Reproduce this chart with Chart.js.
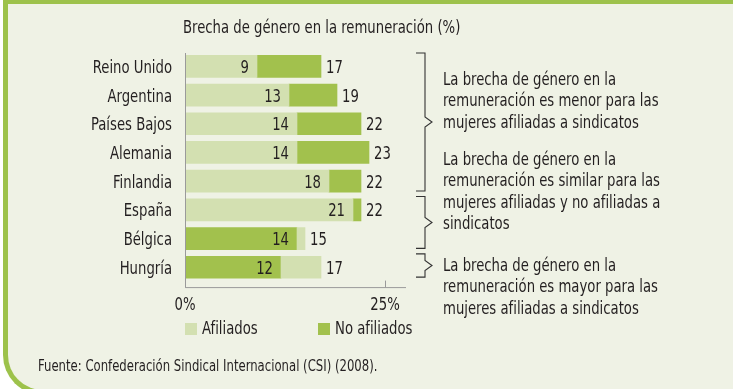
<!DOCTYPE html>
<html lang="es">
<head>
<meta charset="utf-8">
<title>Brecha de género en la remuneración</title>
<script src="https://cdn.jsdelivr.net/npm/chart.js@4.4.0/dist/chart.umd.min.js"></script>
<style>
  html, body { margin: 0; padding: 0; background: #fff; overflow: hidden; }
  #lienzo { position: relative; width: 733px; height: 389px; overflow: hidden; }
  #marco {
    position: absolute; left: 3px; top: 0; width: 760px; height: 395px;
    box-sizing: border-box; background: #eff2e5;
    border: 5px solid #9dc24b; border-top-width: 4px; border-right-width: 0;
    border-radius: 0 0 0 40px;
  }
  #grafico { position: absolute; left: 0; top: 0; }
</style>
</head>
<body>
<div id="lienzo">
  <div id="marco"></div>
  <canvas id="grafico" width="733" height="389"></canvas>
</div>
<script>
// datos
const paises = ['Reino Unido', 'Argentina', 'Países Bajos', 'Alemania', 'Finlandia', 'España', 'Bélgica', 'Hungría'];
const afiliados = [9, 13, 14, 14, 18, 21, 15, 17];
const noAfiliados = [17, 19, 22, 23, 22, 22, 14, 12];
const ticksX = [0, 25];
const series = ['Afiliados', 'No afiliados'];

const titulo = 'Brecha de género en la remuneración (%)';
const fuente = 'Fuente: Confederación Sindical Internacional (CSI) (2008).';

// grupos de países (índice inicial y final) para las llaves de la derecha
const grupos = [[0, 4], [5, 6], [7, 7]];
const notaMenor = ['La brecha de género en la', 'remuneración es menor para las', 'mujeres afiliadas a sindicatos'];
const notaSimilar = ['La brecha de género en la', 'remuneración es similar para las', 'mujeres afiliadas y no afiliadas a', 'sindicatos'];
const notaMayor = ['La brecha de género en la', 'remuneración es mayor para las', 'mujeres afiliadas a sindicatos'];

const FUENTE = "'DejaVu Sans Condensed', 'DejaVu Sans', sans-serif";
const TAM = 17;
const ESTRECHO = 0.865; // letra más estrecha, tipo condensada
const TEXTO = '#231f20';
const CLARO = '#d3e0b1';
const OSCURO = '#a2c14d';

// la barra menor va delante, la mayor solo se ve desde el final de la menor
const barrasAfil = afiliados.map((a, i) => a <= noAfiliados[i] ? [0, a] : [noAfiliados[i], a]);
const barrasNoAfil = noAfiliados.map((n, i) => n > afiliados[i] ? [afiliados[i], n] : [0, n]);

function escribir(ctx, txt, x, y, tam, alinear) {
    ctx.save();
    ctx.font = tam + 'px ' + FUENTE;
    ctx.textAlign = alinear || 'left';
    ctx.textBaseline = 'alphabetic';
    ctx.fillStyle = TEXTO;
    ctx.translate(x, y);
    ctx.scale(ESTRECHO, 1);
    ctx.fillText(txt, 0, 0);
    ctx.restore();
}

const extras = {
    id: 'extras',
    afterDatasetsDraw(chart) {
        const ctx = chart.ctx;
        const x = chart.scales.x;
        const y = chart.scales.y;
        const area = chart.chartArea;
        const base = area.bottom + 6;

        ctx.save();
        // ejes
        ctx.strokeStyle = '#9a9a9a';
        ctx.lineWidth = 1;
        ctx.beginPath();
        ctx.moveTo(Math.round(x.getPixelForValue(0)) + 0.5, area.top + 1);
        ctx.lineTo(Math.round(x.getPixelForValue(0)) + 0.5, base);
        ctx.lineTo(area.right + 1, base);
        ticksX.forEach(t => {
            const px = Math.round(x.getPixelForValue(t)) + 0.5;
            ctx.moveTo(px, base);
            ctx.lineTo(px, base - 7);
        });
        ctx.stroke();
        ctx.restore();

        // etiquetas de los ejes
        ticksX.forEach(t => escribir(ctx, t + '%', x.getPixelForValue(t), 310, TAM, 'center'));
        paises.forEach((p, i) => escribir(ctx, p, area.left - 13, y.getPixelForValue(i) + 6.5, TAM, 'right'));

        // valores de cada barra
        paises.forEach((p, i) => {
            const a = afiliados[i], n = noAfiliados[i];
            const cy = y.getPixelForValue(i) + 6.5;
            const menor = Math.min(a, n), mayor = Math.max(a, n);
            escribir(ctx, String(menor), x.getPixelForValue(menor) - 8, cy, TAM, 'right');
            escribir(ctx, String(mayor), x.getPixelForValue(mayor) + 5, cy, TAM, 'left');
        });

        // título
        escribir(ctx, titulo, 183, 33, TAM);

        // leyenda
        const colores = [CLARO, OSCURO];
        const posLeyenda = [185, 318];
        series.forEach((s, i) => {
            ctx.fillStyle = colores[i];
            ctx.fillRect(posLeyenda[i], 323, 12, 12);
            escribir(ctx, s, posLeyenda[i] + 17, 334, TAM);
        });

        // fuente
        escribir(ctx, fuente, 38, 371, 15);

        // llaves
        const paso = y.getPixelForValue(1) - y.getPixelForValue(0);
        ctx.save();
        ctx.strokeStyle = '#333';
        ctx.lineWidth = 1.1;
        grupos.forEach(([ini, fin]) => {
            const top = y.getPixelForValue(ini) - paso / 2 + 1;
            const bot = y.getPixelForValue(fin) + paso / 2 - 4.5;
            const mid = (top + bot) / 2;
            ctx.beginPath();
            ctx.moveTo(416, top);
            ctx.lineTo(425, top);
            ctx.lineTo(425, mid - 5);
            ctx.lineTo(432, mid);
            ctx.lineTo(425, mid + 5);
            ctx.lineTo(425, bot);
            ctx.lineTo(416, bot);
            ctx.stroke();
        });
        ctx.restore();

        // notas
        const notas = [[notaMenor, 85], [notaSimilar, 165], [notaMayor, 271]];
        notas.forEach(([lineas, y0]) => {
            lineas.forEach((l, k) => escribir(ctx, l, 443, y0 + k * 21.3, TAM));
        });
    }
};

new Chart(document.getElementById('grafico').getContext('2d'), {
    type: 'bar',
    data: {
        labels: paises,
        datasets: [
            { label: series[0], data: barrasAfil, backgroundColor: CLARO },
            { label: series[1], data: barrasNoAfil, backgroundColor: OSCURO }
        ]
    },
    options: {
        indexAxis: 'y',
        responsive: false,
        animation: false,
        devicePixelRatio: 1,
        grouped: false,
        barThickness: 22,
        layout: { padding: { top: 52, left: 0, right: 328, bottom: 0 } },
        plugins: { legend: { display: false }, tooltip: { enabled: false } },
        scales: {
            x: {
                min: 0,
                max: 27.5,
                afterBuildTicks: s => { s.ticks = ticksX.map(v => ({ value: v })); },
                afterFit: s => { s.height = 107.4; },
                grid: { display: false, drawTicks: false },
                border: { display: false },
                ticks: { display: false }
            },
            y: {
                afterFit: s => { s.width = 185; },
                grid: { display: false, drawTicks: false },
                border: { display: false },
                ticks: { display: false }
            }
        }
    },
    plugins: [extras]
});
</script>
</body>
</html>
